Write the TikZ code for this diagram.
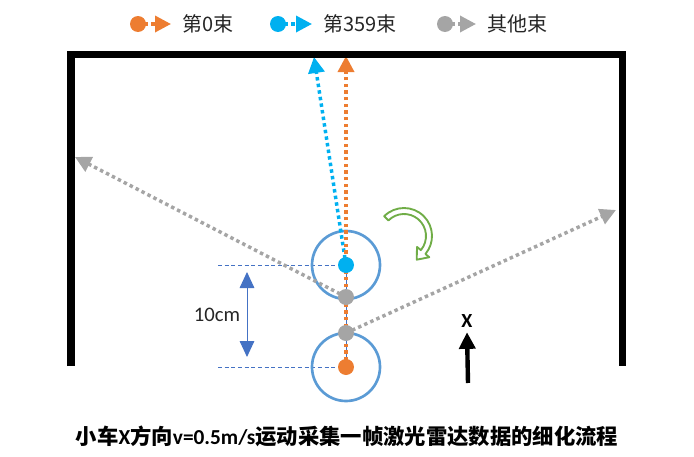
\documentclass[tikz,border=0pt]{standalone}
\usepackage{fontspec}
\setmainfont{Carlito}
\newfontfamily\cjk{Noto Sans CJK SC}
\usepackage{xcolor}
\usetikzlibrary{arrows.meta,positioning,backgrounds}
\definecolor{beamorange}{HTML}{ED7D31}
\definecolor{beamblue}{HTML}{00B0F0}
\definecolor{beamgray}{HTML}{A5A5A5}
\definecolor{wheelblue}{HTML}{5B9BD5}
\definecolor{guideblue}{HTML}{4472C4}
\definecolor{turngreen}{HTML}{70AD47}
\definecolor{textgray}{HTML}{262626}

\begin{document}
\begin{tikzpicture}[x=0.75pt,y=-0.75pt,
	dot/.style={circle,inner sep=0pt,minimum size=12pt,draw=none},
	beam/.style={line width=2.6pt,dash pattern=on 2.6pt off 2.4pt,-{Triangle[length=12pt,width=12pt]}},
	wall/.style={line width=5.5pt,line join=miter},
	guide/.style={draw=guideblue,line width=0.6pt,dash pattern=on 3pt off 2pt},
	wheel/.style={draw=wheelblue,line width=2pt},
	legend/.style={font=\cjk\fontsize{15}{18}\selectfont,text=textgray,inner sep=3.3pt},
	dim/.style={draw=guideblue,line width=0.75pt,{Triangle[length=12pt,width=11pt]}-{Triangle[length=12pt,width=11pt]}},
	axis/.style={line width=3.3pt,-{Triangle[length=12.5pt,width=12pt]}},
	]
\useasboundingbox (0,0) rectangle (694,457);
% legend
\node[dot,fill=beamorange] (l0) at (138,24) {}; \coordinate (l0e) at (171,24);
\node[legend,right=5pt of l0e] (t0) {第0束};
\node[dot,fill=beamblue] (l359) at (278,24) {}; \coordinate (l359e) at (312,24);
\node[legend,right=5pt of l359e] (t359) {第359束};
\node[dot,fill=beamgray] (lg) at (445,24) {}; \coordinate (lge) at (476,24);
\node[legend,right=5pt of lge] (tg) {其他束};
\begin{scope}[on background layer]
\draw[beam,beamorange] (l0.center) -- (l0e);
\draw[beam,beamblue] (l359.center) -- (l359e);
\draw[beam,beamgray] (lg.center) -- (lge);
\end{scope}
% walls
\draw[wall] (71,366) -- (71,54.5) -- (622.5,54.5) -- (622.5,366);
% scan points
\node[dot,fill=beamorange] (p0) at (346,367) {};
\node[dot,fill=beamblue] (p359) at (346,265) {};
\node[dot,fill=beamgray] (g1) at (346,297) {};
\node[dot,fill=beamgray] (g2) at (346,333) {};
\coordinate (b0) at (346,56); \coordinate (b359) at (314,57);
\coordinate (bg1) at (75,157); \coordinate (bg2) at (616,210);
\coordinate (h1) at (218,265); \coordinate (h2) at (218,367);
\begin{scope}[on background layer]
\draw[guideblue,line width=0.75pt] (p359.center) -- (p0.center);
\draw[guide] (h1) -- (p359.west); \draw[guide] (h2) -- (p0.west);
\draw[wheel] (p359.center) circle[radius=34]; \draw[wheel] (p0.center) circle[radius=34];
\draw[beam,beamgray] (g1.center) -- (bg1); \draw[beam,beamgray] (g2.center) -- (bg2);
\draw[beam,beamblue] (p359.center) -- (b359);
\draw[beam,beamorange] (p0.center) -- (b0);
\end{scope}
% 10cm
\coordinate (d1) at (247,272); \coordinate (d2) at (247,357);
\draw[dim] (d1) -- (d2) node[midway,left=1.5pt,font=\fontsize{15.5}{18}\selectfont,text=textgray] (dl) {10cm};
% turn arrow
\draw[turngreen,line width=1.4pt,fill=white,line join=round] ([shift={(-135:28)}]404,236) arc[start angle=-135,end angle=40,radius=28] -- ([shift={(40:33)}]404,236) -- (416.7,259.7) -- ([shift={(40:17)}]404,236) -- ([shift={(40:22)}]404,236) arc[start angle=40,end angle=-135,radius=22] -- cycle;
% x direction
\node[font=\bfseries\fontsize{15}{18}\selectfont] (xl) at (467,321) {X};
\coordinate (x0) at (468,383);
\draw[axis] (x0) -- (xl.south);
% title
\node[font=\bfseries\fontsize{16}{18}\selectfont] (title) at (347,436) {{\cjk 小车}X{\cjk 方向}v=0.5m/s{\cjk 运动采集一帧激光雷达数据的细化流程}};
\end{tikzpicture}
\end{document}
